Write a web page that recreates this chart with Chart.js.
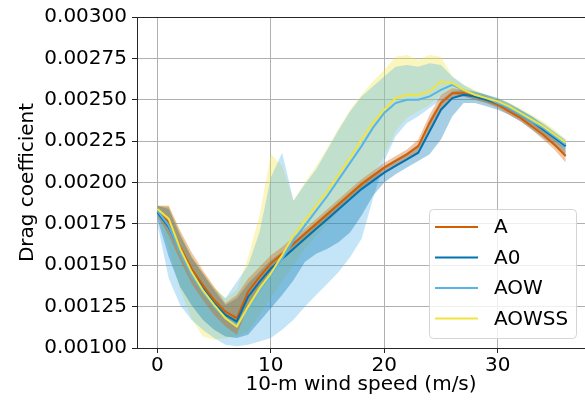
<!DOCTYPE html>
<html>
<head>
<meta charset="utf-8">
<script src="https://cdn.jsdelivr.net/npm/chart.js@4"></script>
<style>
	html, body { margin: 0; padding: 0; background: #fff; overflow: hidden; }
	#wrap { width: 585px; height: 404px; }
</style>
</head>
<body>
<div id="wrap"><canvas id="canvas" width="585" height="404"></canvas></div>
<script>
var windSpeed = [0, 1, 2, 3, 4, 5, 6, 7, 8, 9, 10, 11, 12, 13, 14, 15, 16, 17, 18, 19, 20, 21, 22, 23, 24, 25, 26, 27, 28, 29, 30, 31, 32, 33, 34, 35, 36];
var xTicks = [0, 10, 20, 30];
var yTicks = [0.001, 0.00125, 0.0015, 0.00175, 0.002, 0.00225, 0.0025, 0.00275, 0.003];

var seriesNames = ['A', 'A0', 'AOW', 'AOWSS'];
var seriesColors = ['#D55E00', '#0072B2', '#56B4E9', '#F0E442'];

// mean drag coefficient per wind speed bin
var dragA = [0.00183, 0.00176, 0.00161, 0.00148, 0.00138, 0.00129, 0.00122, 0.00118, 0.00134, 0.00143, 0.00151, 0.00157, 0.00163, 0.00169, 0.00175, 0.00181, 0.00187, 0.00193, 0.00199, 0.00204, 0.00209, 0.00213, 0.00217, 0.00222, 0.00236, 0.00248, 0.00254, 0.00254, 0.00252, 0.00250, 0.00247, 0.00243, 0.00239, 0.00234, 0.00229, 0.00223, 0.00216];
var dragA0 = [0.00182, 0.00173, 0.00159, 0.00146, 0.00136, 0.00127, 0.00120, 0.00116, 0.00131, 0.00140, 0.00148, 0.00154, 0.00160, 0.00166, 0.00172, 0.00178, 0.00184, 0.00190, 0.00196, 0.00201, 0.00206, 0.00210, 0.00214, 0.00218, 0.00231, 0.00244, 0.00251, 0.00253, 0.00252, 0.00250, 0.00248, 0.00245, 0.00241, 0.00237, 0.00232, 0.00227, 0.00222];
var dragAOW = [0.00183, 0.00174, 0.00158, 0.00144, 0.00134, 0.00125, 0.00118, 0.00114, 0.00124, 0.00135, 0.00144, 0.00154, 0.00165, 0.00174, 0.00183, 0.00192, 0.00202, 0.00212, 0.00222, 0.00233, 0.00242, 0.00248, 0.00250, 0.00250, 0.00252, 0.00256, 0.00259, 0.00256, 0.00253, 0.00251, 0.00248, 0.00245, 0.00241, 0.00237, 0.00233, 0.00228, 0.00223];
var dragAOWSS = [0.00184, 0.00178, 0.00160, 0.00146, 0.00135, 0.00126, 0.00118, 0.00113, 0.00125, 0.00136, 0.00145, 0.00156, 0.00168, 0.00177, 0.00186, 0.00195, 0.00205, 0.00215, 0.00226, 0.00236, 0.00244, 0.00251, 0.00253, 0.00253, 0.00255, 0.00261, 0.00260, 0.00256, 0.00253, 0.00251, 0.00249, 0.00246, 0.00242, 0.00238, 0.00234, 0.00229, 0.00224];

// spread (lower / upper envelope) per run
var dragALow = [0.00180, 0.00168, 0.00153, 0.00139, 0.00129, 0.00120, 0.00113, 0.00108, 0.00125, 0.00136, 0.00146, 0.00153, 0.00159, 0.00166, 0.00172, 0.00178, 0.00184, 0.00190, 0.00196, 0.00201, 0.00206, 0.00210, 0.00214, 0.00218, 0.00231, 0.00243, 0.00251, 0.00252, 0.00250, 0.00248, 0.00245, 0.00241, 0.00237, 0.00232, 0.00226, 0.00220, 0.00212];
var dragAHigh = [0.00186, 0.00186, 0.00171, 0.00158, 0.00147, 0.00137, 0.00127, 0.00132, 0.00142, 0.00149, 0.00156, 0.00161, 0.00167, 0.00172, 0.00178, 0.00184, 0.00190, 0.00196, 0.00202, 0.00207, 0.00212, 0.00216, 0.00220, 0.00226, 0.00241, 0.00253, 0.00257, 0.00256, 0.00254, 0.00252, 0.00249, 0.00245, 0.00241, 0.00236, 0.00232, 0.00226, 0.00220];
var dragA0Low = [0.00178, 0.00155, 0.00137, 0.00126, 0.00117, 0.00111, 0.00107, 0.00106, 0.00108, 0.00116, 0.00124, 0.00132, 0.00141, 0.00152, 0.00157, 0.00160, 0.00164, 0.00170, 0.00180, 0.00192, 0.00200, 0.00205, 0.00209, 0.00213, 0.00217, 0.00226, 0.00240, 0.00248, 0.00248, 0.00246, 0.00244, 0.00241, 0.00237, 0.00232, 0.00227, 0.00222, 0.00216];
var dragA0High = [0.00186, 0.00184, 0.00168, 0.00155, 0.00145, 0.00135, 0.00126, 0.00130, 0.00139, 0.00146, 0.00153, 0.00158, 0.00164, 0.00170, 0.00176, 0.00182, 0.00188, 0.00194, 0.00200, 0.00205, 0.00210, 0.00214, 0.00218, 0.00223, 0.00238, 0.00250, 0.00255, 0.00256, 0.00255, 0.00253, 0.00251, 0.00248, 0.00244, 0.00240, 0.00235, 0.00230, 0.00225];
var dragAOWLow = [0.00175, 0.00142, 0.00126, 0.00117, 0.00111, 0.00106, 0.00102, 0.00101, 0.00102, 0.00104, 0.00106, 0.00111, 0.00117, 0.00125, 0.00132, 0.00139, 0.00146, 0.00155, 0.00166, 0.00190, 0.00213, 0.00228, 0.00236, 0.00240, 0.00245, 0.00250, 0.00254, 0.00252, 0.00250, 0.00248, 0.00246, 0.00243, 0.00239, 0.00235, 0.00230, 0.00225, 0.00220];
var dragAOWHigh = [0.00186, 0.00185, 0.00169, 0.00155, 0.00145, 0.00136, 0.00130, 0.00140, 0.00150, 0.00170, 0.00203, 0.00218, 0.00189, 0.00199, 0.00208, 0.00220, 0.00232, 0.00243, 0.00252, 0.00258, 0.00264, 0.00270, 0.00271, 0.00270, 0.00272, 0.00271, 0.00264, 0.00259, 0.00255, 0.00253, 0.00250, 0.00247, 0.00244, 0.00240, 0.00236, 0.00231, 0.00226];
var dragAOWSSLow = [0.00180, 0.00160, 0.00135, 0.00118, 0.00107, 0.00105, 0.00106, 0.00107, 0.00110, 0.00120, 0.00130, 0.00140, 0.00150, 0.00160, 0.00168, 0.00175, 0.00183, 0.00190, 0.00197, 0.00205, 0.00216, 0.00231, 0.00239, 0.00243, 0.00247, 0.00253, 0.00255, 0.00253, 0.00250, 0.00248, 0.00246, 0.00243, 0.00239, 0.00235, 0.00230, 0.00225, 0.00220];
var dragAOWSSHigh = [0.00186, 0.00186, 0.00170, 0.00156, 0.00146, 0.00137, 0.00130, 0.00135, 0.00155, 0.00180, 0.00217, 0.00210, 0.00189, 0.00200, 0.00210, 0.00221, 0.00233, 0.00244, 0.00253, 0.00261, 0.00268, 0.00276, 0.00277, 0.00274, 0.00277, 0.00276, 0.00264, 0.00259, 0.00256, 0.00253, 0.00251, 0.00248, 0.00245, 0.00241, 0.00237, 0.00232, 0.00226];

var means = [dragA, dragA0, dragAOW, dragAOWSS];
var lows = [dragALow, dragA0Low, dragAOWLow, dragAOWSSLow];
var highs = [dragAHigh, dragA0High, dragAOWHigh, dragAOWSSHigh];

function toPoints(values) {
	return values.map(function (v, i) {
		return { x: windSpeed[i], y: v };
	});
}

function rgba(hex, a) {
	var n = parseInt(hex.slice(1), 16);
	return 'rgba(' + (n >> 16) + ',' + ((n >> 8) & 255) + ',' + (n & 255) + ',' + a + ')';
}

var datasets = [];
// shaded envelopes: AOWSS at the bottom, A on top
for (var i = 0; i < seriesNames.length; i++) {
	datasets.push({
		label: seriesNames[i] + ' low',
		data: toPoints(lows[i]),
		borderWidth: 0,
		pointRadius: 0,
		fill: false,
		order: 10 + i * 10
	});
	datasets.push({
		label: seriesNames[i] + ' high',
		data: toPoints(highs[i]),
		borderWidth: 0,
		pointRadius: 0,
		backgroundColor: rgba(seriesColors[i], 0.35),
		fill: '-1',
		order: 10 + i * 10
	});
}
// mean lines on top of all bands
for (var j = 0; j < seriesNames.length; j++) {
	datasets.push({
		label: seriesNames[j],
		data: toPoints(means[j]),
		borderColor: seriesColors[j],
		borderWidth: 2,
		pointRadius: 0,
		fill: false,
		tension: 0,
		order: 4 - j
	});
}

var topSpine = {
	id: 'topSpine',
	afterDraw: function (chart) {
		var ctx = chart.ctx, a = chart.chartArea;
		ctx.save();
		ctx.strokeStyle = '#262626';
		ctx.lineWidth = 1;
		ctx.beginPath();
		ctx.moveTo(a.left, a.top + 0.5);
		ctx.lineTo(a.right, a.top + 0.5);
		ctx.stroke();
		ctx.restore();
	}
};

var cornerLegend = {
	id: 'cornerLegend',
	afterDraw: function (chart) {
		var ctx = chart.ctx;
		var x = 429, y = 209, w = 147, h = 129, r = 4;
		ctx.save();
		ctx.fillStyle = 'rgba(255,255,255,0.8)';
		ctx.strokeStyle = '#d4d4d4';
		ctx.lineWidth = 1;
		ctx.beginPath();
		ctx.roundRect(x + 0.5, y + 0.5, w, h, r);
		ctx.fill();
		ctx.stroke();
		ctx.font = '20px "DejaVu Sans"';
		ctx.textBaseline = 'middle';
		ctx.fillStyle = '#000';
		for (var k = 0; k < seriesNames.length; k++) {
			var ry = 227 + k * 30.5;
			ctx.strokeStyle = seriesColors[k];
			ctx.lineWidth = 2;
			ctx.beginPath();
			ctx.moveTo(435, ry);
			ctx.lineTo(478, ry);
			ctx.stroke();
			ctx.fillText(seriesNames[k], 494, ry + 1);
		}
		ctx.restore();
	}
};

Chart.defaults.font.family = '"DejaVu Sans"';
Chart.defaults.font.size = 20;
Chart.defaults.color = '#000';

new Chart(document.getElementById('canvas'), {
	type: 'line',
	data: { datasets: datasets },
	options: {
		responsive: false,
		animation: false,
		layout: { padding: { top: 14, right: 0, bottom: 0, left: 0 } },
		plugins: {
			legend: { display: false },
			tooltip: { enabled: false },
			filler: { drawTime: 'beforeDatasetsDraw' }
		},
		scales: {
			x: {
				type: 'linear',
				min: -1.8,
				max: 37.7,
				afterBuildTicks: function (scale) {
					scale.ticks = xTicks.map(function (v) { return { value: v }; });
				},
				afterFit: function (scale) { scale.height = 56; },
				grid: { color: '#b0b0b0', lineWidth: 1, tickLength: 5, tickColor: '#222' },
				border: { color: '#262626', width: 1 },
				ticks: { padding: 1, maxRotation: 0 },
				title: { display: true, text: '10-m wind speed (m/s)', padding: { top: 0, bottom: 7 } }
			},
			y: {
				min: 0.001,
				max: 0.003,
				afterBuildTicks: function (scale) {
					scale.ticks = yTicks.map(function (v) { return { value: v }; });
				},
				afterFit: function (scale) { scale.width = 137; },
				grid: { color: '#b0b0b0', lineWidth: 1, tickLength: 5, tickColor: '#222' },
				border: { color: '#262626', width: 1 },
				ticks: {
					padding: 5,
					callback: function (v) { return v.toFixed(5); }
				},
				title: { display: true, text: 'Drag coefficient', padding: { top: 16, bottom: 0 } }
			}
		}
	},
	plugins: [topSpine, cornerLegend]
});
</script>
</body>
</html>
